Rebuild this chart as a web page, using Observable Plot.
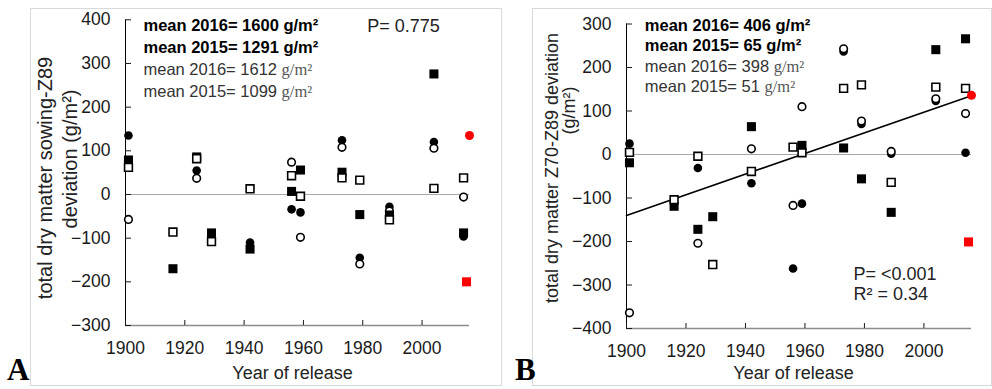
<!DOCTYPE html>
<html><head><meta charset="utf-8">
<script src="https://cdn.jsdelivr.net/npm/d3@7"></script>
<script src="https://cdn.jsdelivr.net/npm/@observablehq/plot@0.6"></script>
<style>
html,body{margin:0;padding:0;background:#fff;}
#wrap{position:relative;width:992px;height:389px;overflow:hidden;font-family:"Liberation Sans",Arial,sans-serif;}
.panel{position:absolute;top:0;width:496px;height:389px;}
.panel svg{max-width:none !important;}
.box{position:absolute;border:1px solid #d9d9d9;pointer-events:none;box-sizing:border-box;}
.letter{position:absolute;font-family:"Liberation Serif","Times New Roman",serif;font-weight:bold;font-size:31px;line-height:26px;height:26px;color:#000;}
</style></head><body>
<div id="wrap">
  <div class="box" style="left:30px;top:8px;width:472px;height:378px;"></div>
  <div class="box" style="left:532px;top:8px;width:460px;height:378px;"></div>
  <div class="panel" id="pA" style="left:0px;"></div>
  <div class="panel" id="pB" style="left:496px;"></div>
  <div class="letter" style="left:7px;top:357px;">A</div>
  <div class="letter" style="left:515px;top:357px;">B</div>
</div>
<script>
// ---------- data ----------
const years = [1901, 1916, 1924, 1929, 1942, 1956, 1959, 1973, 1979, 1989, 2004, 2014];
const xTicks = [1900, 1920, 1940, 1960, 1980, 2000];
const yTicksA = [-300, -200, -100, 0, 100, 200, 300, 400];
const yTicksB = [-400, -300, -200, -100, 0, 100, 200, 300];

// Panel A: total dry matter sowing-Z89 deviation (g/m2)
const aFilledCircle = [135, null, 55, null, -110, -34, -41, 124, -145, -28, 120, -96];
const aOpenCircle   = [-57, null, 37, null, null, 74, -98, 108, -159, -38, 106, -6];
const aFilledSquare = [79, -170, 86, -88, -125, 7, 56, 51, -46, -47, 276, -88];
const aOpenSquare   = [62, -86, 82, -108, 13, 43, -4, 38, 33, -58, 14, 38];
const aRedCircleYear = [2016], aRedCircle = [135];
const aRedSquareYear = [2015], aRedSquare = [-200];

// Panel B: total dry matter Z70-Z89 deviation (g/m2)
const bFilledCircle = [25, null, -31, null, -66, -262, -113, 237, 70, 2, 123, 4];
const bOpenCircle   = [-364, null, -204, null, 13, -117, 110, 243, 77, 7, 128, 94];
const bFilledSquare = [-19, -119, -172, -143, 64, null, 21, 15, -56, -133, 241, 266];
const bOpenSquare   = [5, -104, -4, -253, -39, 17, 4, 152, 160, -64, 155, 152];
const bRedCircleYear = [2016], bRedCircle = [136];
const bRedSquareYear = [2015], bRedSquare = [-201];
const bTrendYears = [1900, 2015];
const bTrendValues = [-140, 133];

const aNotesBold = ["mean 2016= 1600 g/m²", "mean 2015= 1291 g/m²"];
const aNotesReg = ["mean 2016= 1612 |g/m²", "mean 2015= 1099 |g/m²"];
const aStat = ["P= 0.775"];
const bNotesBold = ["mean 2016= 406 g/m²", "mean 2015= 65 g/m²"];
const bNotesReg = ["mean 2016= 398 |g/m²", "mean 2015= 51 |g/m²"];
const bStat = ["P= <0.001", "R² = 0.34"];

const rows = (xs, vs) => xs.map((x, i) => ({x, v: vs[i]})).filter(d => d.v != null);

function panel(cfg) {
  const L = cfg.ml, T = cfg.mt;
  const txt = (s, o) => Plot.text([s], {text: d => d, frameAnchor: "top-left", textAnchor: "start", lineAnchor: "middle", ...o});
  const marks = [
    Plot.ruleY([0], {stroke: "#a6a6a6", strokeWidth: 1}),
    Plot.ruleY([cfg.ydom[0]], {stroke: "#8c8c8c", strokeWidth: 1.5}),
    Plot.ruleX([1900], {stroke: "#000", strokeWidth: 1}),
    Plot.axisY({ticks: cfg.yTicks, tickSize: 6, dx: 6, tickFormat: () => "", label: null}),
    Plot.axisY({ticks: cfg.yTicks, tickSize: 0, tickPadding: 15, fontSize: 17.5, label: null, tickFormat: "d"}),
    Plot.axisX({ticks: xTicks, tickSize: 5, dy: -5, tickFormat: () => "", label: null}),
    Plot.axisX({ticks: xTicks, tickSize: 0, tickPadding: 16, fontSize: 17.5, label: null, tickFormat: "d"}),
  ];
  if (cfg.trend) marks.push(Plot.line(cfg.trend, {x: "x", y: "v", stroke: "#000", strokeWidth: 1.6}));
  marks.push(
    Plot.dot(cfg.fc, {x: "x", y: "v", symbol: "circle", r: 4.3, fill: "#000"}),
    Plot.dot(cfg.oc, {x: "x", y: "v", symbol: "circle", r: 3.8, fill: "#fff", stroke: "#000", strokeWidth: 1.6}),
    Plot.dot(cfg.fs, {x: "x", y: "v", symbol: "square", r: 5.1, fill: "#000"}),
    Plot.dot(cfg.os, {x: "x", y: "v", symbol: "square", r: 4.4, fill: "#fff", stroke: "#000", strokeWidth: 1.6}),
    Plot.dot(cfg.rc, {x: "x", y: "v", symbol: "circle", r: 4.5, fill: "#ff0000"}),
    Plot.dot(cfg.rs, {x: "x", y: "v", symbol: "square", r: 5.1, fill: "#ff0000"})
  );
  cfg.bold.forEach((s, i) => marks.push(txt(s, {dx: cfg.nx, dy: cfg.ny[i], fontWeight: "bold", fontSize: 16.5, fill: "#000"})));
  cfg.reg.forEach((s, i) => marks.push(txt(s, {dx: cfg.nx, dy: cfg.ny[i + 2], fontSize: 16.5, fill: "#333"})));
  cfg.stat.forEach((s, i) => marks.push(txt(s, {dx: cfg.sx, dy: cfg.sy[i], fontSize: 18, fill: "#222"})));
  cfg.ytitle.forEach(t => marks.push(Plot.text([t.s], {text: d => d, frameAnchor: "top-left", rotate: -90, textAnchor: "middle", lineAnchor: "middle", dx: t.x - L, dy: t.y - T, fontSize: t.fs, fill: "#222"})));
  marks.push(Plot.text(["Year of release"], {text: d => d, frameAnchor: "top-left", textAnchor: "middle", lineAnchor: "middle", dx: cfg.xt[0] - L, dy: cfg.xt[1] - T, fontSize: 18, fill: "#222"}));
  const svg = Plot.plot({
    width: 496, height: 389,
    marginLeft: cfg.ml, marginRight: cfg.mr, marginTop: cfg.mt, marginBottom: cfg.mb,
    x: {domain: [1900, 2016]},
    y: {domain: cfg.ydom},
    style: {fontFamily: "'Liberation Sans', Arial, sans-serif", background: "transparent", color: "#1a1a1a", overflow: "visible"},
    marks
  });
  svg.querySelectorAll("text, tspan").forEach(el => {
    if (el.children.length === 0 && el.textContent.includes("|")) {
      const [a, b] = el.textContent.split("|");
      el.textContent = a;
      const ts = document.createElementNS("http://www.w3.org/2000/svg", "tspan");
      ts.setAttribute("font-family", "'Liberation Serif', 'Times New Roman', serif");
      ts.setAttribute("fill", "#555");
      ts.textContent = b;
      el.appendChild(ts);
    }
  });
  return svg;
}

document.getElementById("pA").appendChild(panel({
  ml: 125, mr: 27, mt: 19.3, mb: 64, ydom: [-300, 400], yTicks: yTicksA,
  fc: rows(years, aFilledCircle), oc: rows(years, aOpenCircle), fs: rows(years, aFilledSquare), os: rows(years, aOpenSquare),
  rc: rows(aRedCircleYear, aRedCircle), rs: rows(aRedSquareYear, aRedSquare),
  bold: aNotesBold, reg: aNotesReg, nx: 18, ny: [5.7, 27.7, 49.7, 71.7],
  stat: aStat, sx: 241.7, sy: [6.7],
  ytitle: [{s: "total dry matter sowing-Z89", x: 45, y: 177.5, fs: 20}, {s: "deviation (g/m²)", x: 70, y: 158.5, fs: 20}],
  xt: [292, 372.7]
}));

document.getElementById("pB").appendChild(panel({
  ml: 130, mr: 21, mt: 23.5, mb: 61, ydom: [-400, 300], yTicks: yTicksB,
  fc: rows(years, bFilledCircle), oc: rows(years, bOpenCircle), fs: rows(years, bFilledSquare), os: rows(years, bOpenSquare),
  rc: rows(bRedCircleYear, bRedCircle), rs: rows(bRedSquareYear, bRedSquare),
  trend: rows(bTrendYears, bTrendValues),
  bold: bNotesBold, reg: bNotesReg, nx: 18.3, ny: [1.5, 21.5, 43.2, 62.5],
  stat: bStat, sx: 227, sy: [250.5, 270.5],
  ytitle: [{s: "total dry matter Z70-Z89 deviation", x: 55.7, y: 167.5, fs: 18}, {s: "(g/m²)", x: 72.3, y: 110, fs: 18}],
  xt: [297, 372.7]
}));
</script>
</body></html>
